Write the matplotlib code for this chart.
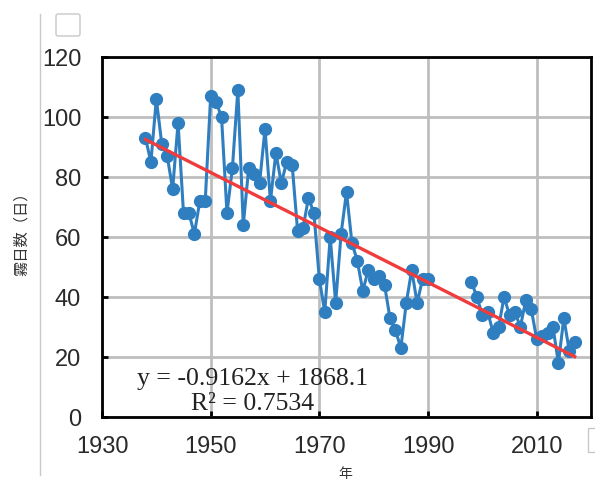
import numpy as np
import matplotlib
matplotlib.use("Agg")
import matplotlib.pyplot as plt
from matplotlib.patches import FancyBboxPatch
from matplotlib.lines import Line2D

# fog days per year
years = [1938, 1939, 1940, 1941, 1942, 1943, 1944, 1945, 1946, 1947,
         1948, 1949, 1950, 1951, 1952, 1953, 1954, 1955, 1956, 1957,
         1958, 1959, 1960, 1961, 1962, 1963, 1964, 1965, 1966, 1967,
         1968, 1969, 1970, 1971, 1972, 1973, 1974, 1975, 1976, 1977,
         1978, 1979, 1980, 1981, 1982, 1983, 1984, 1985, 1986, 1987,
         1988, 1989, 1990,
         1998, 1999, 2000, 2001, 2002, 2003, 2004, 2005, 2006, 2007,
         2008, 2009, 2010, 2011, 2012, 2013, 2014, 2015, 2016, 2017]
fog_days = [93, 85, 106, 91, 87, 76, 98, 68, 68, 61,
            72, 72, 107, 105, 100, 68, 83, 109, 64, 83,
            81, 78, 96, 72, 88, 78, 85, 84, 62, 63,
            73, 68, 46, 35, 60, 38, 61, 75, 58, 52,
            42, 49, 46, 47, 44, 33, 29, 23, 38, 49,
            38, 46, 46,
            45, 40, 34, 35, 28, 30, 40, 34, 35, 30,
            39, 36, 26, 27, 28, 30, 18, 33, 22, 25]
slope, intercept = -0.9162, 1868.1
r2 = 0.7534

xticks = [1930, 1950, 1970, 1990, 2010]
yticks = [0, 20, 40, 60, 80, 100, 120]

W, H = 595, 484
fig = plt.figure(figsize=(W / 100, H / 100), dpi=100)
ax = fig.add_axes([102 / W, 1 - 417 / H, (591 - 102) / W, (417 - 57) / H])

# split the series where years are missing
yrs = np.array(years)
vals = np.array(fog_days, dtype=float)
breaks = np.where(np.diff(yrs) > 1)[0] + 1
for ys, vs in zip(np.split(yrs, breaks), np.split(vals, breaks)):
    ax.plot(ys, vs, color="#2E7EC0", lw=2.2, marker="o", ms=8.5,
            zorder=3, solid_joinstyle="round")

tx = np.array([yrs[0], yrs[-1]])
ax.plot(tx, slope * tx + intercept, color="#F03C3C", lw=2.4, zorder=4)

ax.set_xlim(1930, 2020)
ax.set_ylim(0, 120)
ax.set_xticks(xticks)
ax.set_yticks(yticks)
ax.grid(True, color="#BEBEBE", lw=2, zorder=0)
ax.set_axisbelow(True)
for s in ax.spines.values():
    s.set_color("black")
    s.set_linewidth(2)
ax.tick_params(direction="in", length=4, width=2, color="black",
               labelsize=17, labelcolor="#2A2A2A")
ax.tick_params(axis="y", pad=15)
ax.tick_params(axis="x", pad=14)
for lab in ax.get_xticklabels() + ax.get_yticklabels():
    lab.set_family("Liberation Sans")

ax.text(1957.8, 12.7, f"y = {slope}x + {intercept}", ha="center", va="center",
        fontsize=18.5, family="Liberation Serif", color="#222222")
ax.text(1957.8, 4.3, f"R² = {r2}", ha="center", va="center",
        fontsize=18.5, family="Liberation Serif", color="#222222")

fig.text(21 / W, 1 - 230 / H, "霧日数（日）", rotation=90, ha="center", va="center",
         fontsize=11, family=["Noto Sans CJK JP", "DejaVu Sans"], color="#333333")
fig.text(345 / W, 1 - 474 / H, "年", ha="center", va="center",
         fontsize=10, family=["Noto Sans CJK JP", "DejaVu Sans"], color="#333333")

# screenshot leftovers: thin border line and handle boxes
fig.add_artist(Line2D([40 / W, 40 / W], [1 - 475 / H, 1 - 14 / H],
                      color="#C8C8C8", lw=1, transform=fig.transFigure))
fig.add_artist(FancyBboxPatch((56 / W, 1 - 36 / H), 24 / W, 22 / H,
                              boxstyle="round,pad=0,rounding_size=0.004",
                              fc="white", ec="#C8C8C8", lw=1,
                              transform=fig.transFigure))
fig.add_artist(FancyBboxPatch((588 / W, 1 - 452 / H), 10 / W, 24 / H,
                              boxstyle="square,pad=0",
                              fc="white", ec="#C8C8C8", lw=1,
                              transform=fig.transFigure))

fig.savefig("out.png", dpi=100)
